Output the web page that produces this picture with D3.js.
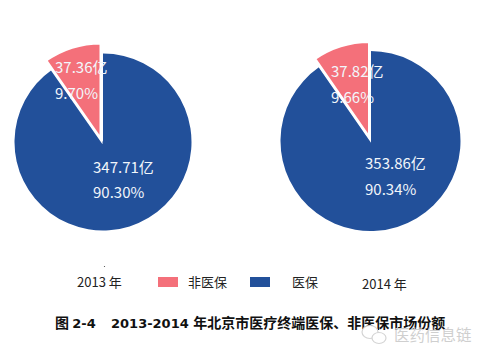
<!DOCTYPE html>
<html><head><meta charset="utf-8">
<script src="https://cdn.jsdelivr.net/npm/d3@7"></script>
<style>
html,body{margin:0;padding:0;background:#fff;}
svg{display:block;}
text{font-family:"Noto Sans CJK SC","Noto Sans",sans-serif;}
</style></head><body>
<svg id="c" width="487" height="359"></svg>
<script>
const categories = ["医保", "非医保"];
const years = ["2013 年", "2014 年"];
const values2013 = [347.71, 37.36];
const values2014 = [353.86, 37.82];
const pct2013 = ["90.30%", "9.70%"];
const pct2014 = ["90.34%", "9.66%"];
const legendOrder = ["非医保", "医保"];
const figureLabel = ["图 ", "2-4"];
const titleParts = ["2013-2014 ", "年北京市医疗终端医保、非医保市场份额"];
const watermark = "医药信息链";

const svg = d3.select("#c");
const color = d3.scaleOrdinal().domain(categories).range(["#22509a", "#f4707a"]);
const pie = d3.pie().sort(null);

const charts = [
  {vals: values2013, pcts: pct2013, cx: 103, cy: 142, r: 88.5, apex: [101, 139.5], pr: 96.5,
   labels: [[93, 173, 198], [55, 73, 99]]},
  {vals: values2014, pcts: pct2014, cx: 370.5, cy: 141, r: 90, apex: [369.5, 138], pr: 96.5,
   labels: [[365, 169, 195], [331, 77, 103]]}
];

charts.forEach(c => {
  const arcs = pie(c.vals);
  const blue = d3.arc().innerRadius(0).outerRadius(c.r);
  const pink = d3.arc().innerRadius(0).outerRadius(c.pr);
  svg.append("path").attr("transform", `translate(${c.cx},${c.cy})`)
    .attr("d", blue(arcs[0])).attr("fill", color(categories[0]));
  svg.append("path").attr("transform", `translate(${c.apex[0]},${c.apex[1]})`)
    .attr("d", pink(arcs[1])).attr("fill", color(categories[1]))
    .attr("stroke", "#ffffff").attr("stroke-width", 3).attr("stroke-linejoin", "miter");
  c.labels.forEach((l, i) => {
    svg.append("text").attr("x", l[0]).attr("y", l[1]).attr("font-size", 15).attr("fill", "#f2f6fb")
      .text(c.vals[i].toFixed(2) + "亿");
    svg.append("text").attr("x", l[0]).attr("y", l[2]).attr("font-size", 15).attr("fill", "#f2f6fb")
      .text(c.pcts[i]);
  });
});

// legend and year captions
const fs = 13;
svg.append("text").attr("x", 77).attr("y", 287).attr("font-size", fs).attr("fill", "#222").text(years[0]);
svg.append("text").attr("x", 362).attr("y", 289).attr("font-size", fs).attr("fill", "#222").text(years[1]);
const legendX = {"非医保": [158, 188], "医保": [250, 292]};
legendOrder.forEach(n => {
  svg.append("rect").attr("x", legendX[n][0]).attr("y", 277).attr("width", 20).attr("height", 10).attr("fill", color(n));
  svg.append("text").attr("x", legendX[n][1]).attr("y", 287).attr("font-size", fs).attr("fill", "#222").text(n);
});
svg.append("circle").attr("cx", 104.5).attr("cy", 266.5).attr("r", 0.6).attr("fill", "#444");

// caption: Latin digits in a wider bold face, CJK in a bold CJK face
const latin = "'DejaVu Sans',sans-serif";
const cap1 = svg.append("text").attr("x", 55).attr("y", 328).attr("font-size", 14).attr("font-weight", 700).attr("fill", "#111");
cap1.append("tspan").text(figureLabel[0]);
cap1.append("tspan").style("font-family", latin).attr("font-size", 13).text(figureLabel[1]);
const cap2 = svg.append("text").attr("x", 111).attr("y", 328).attr("font-size", 14).attr("font-weight", 700).attr("fill", "#111");
cap2.append("tspan").style("font-family", latin).attr("font-size", 13).text(titleParts[0]);
cap2.append("tspan").text(titleParts[1]);

// watermark
const wm = svg.append("g").attr("fill", "#fff").attr("stroke", "#d4d4d4").attr("stroke-width", 1.2);
wm.append("ellipse").attr("cx", 370).attr("cy", 332).attr("rx", 8).attr("ry", 6.5);
wm.append("ellipse").attr("cx", 379).attr("cy", 338).attr("rx", 7).attr("ry", 5.5);
svg.append("text").attr("x", 394).attr("y", 341).attr("font-size", 15.5).attr("fill", "#cfcfcf").text(watermark);
</script>
</body></html>
